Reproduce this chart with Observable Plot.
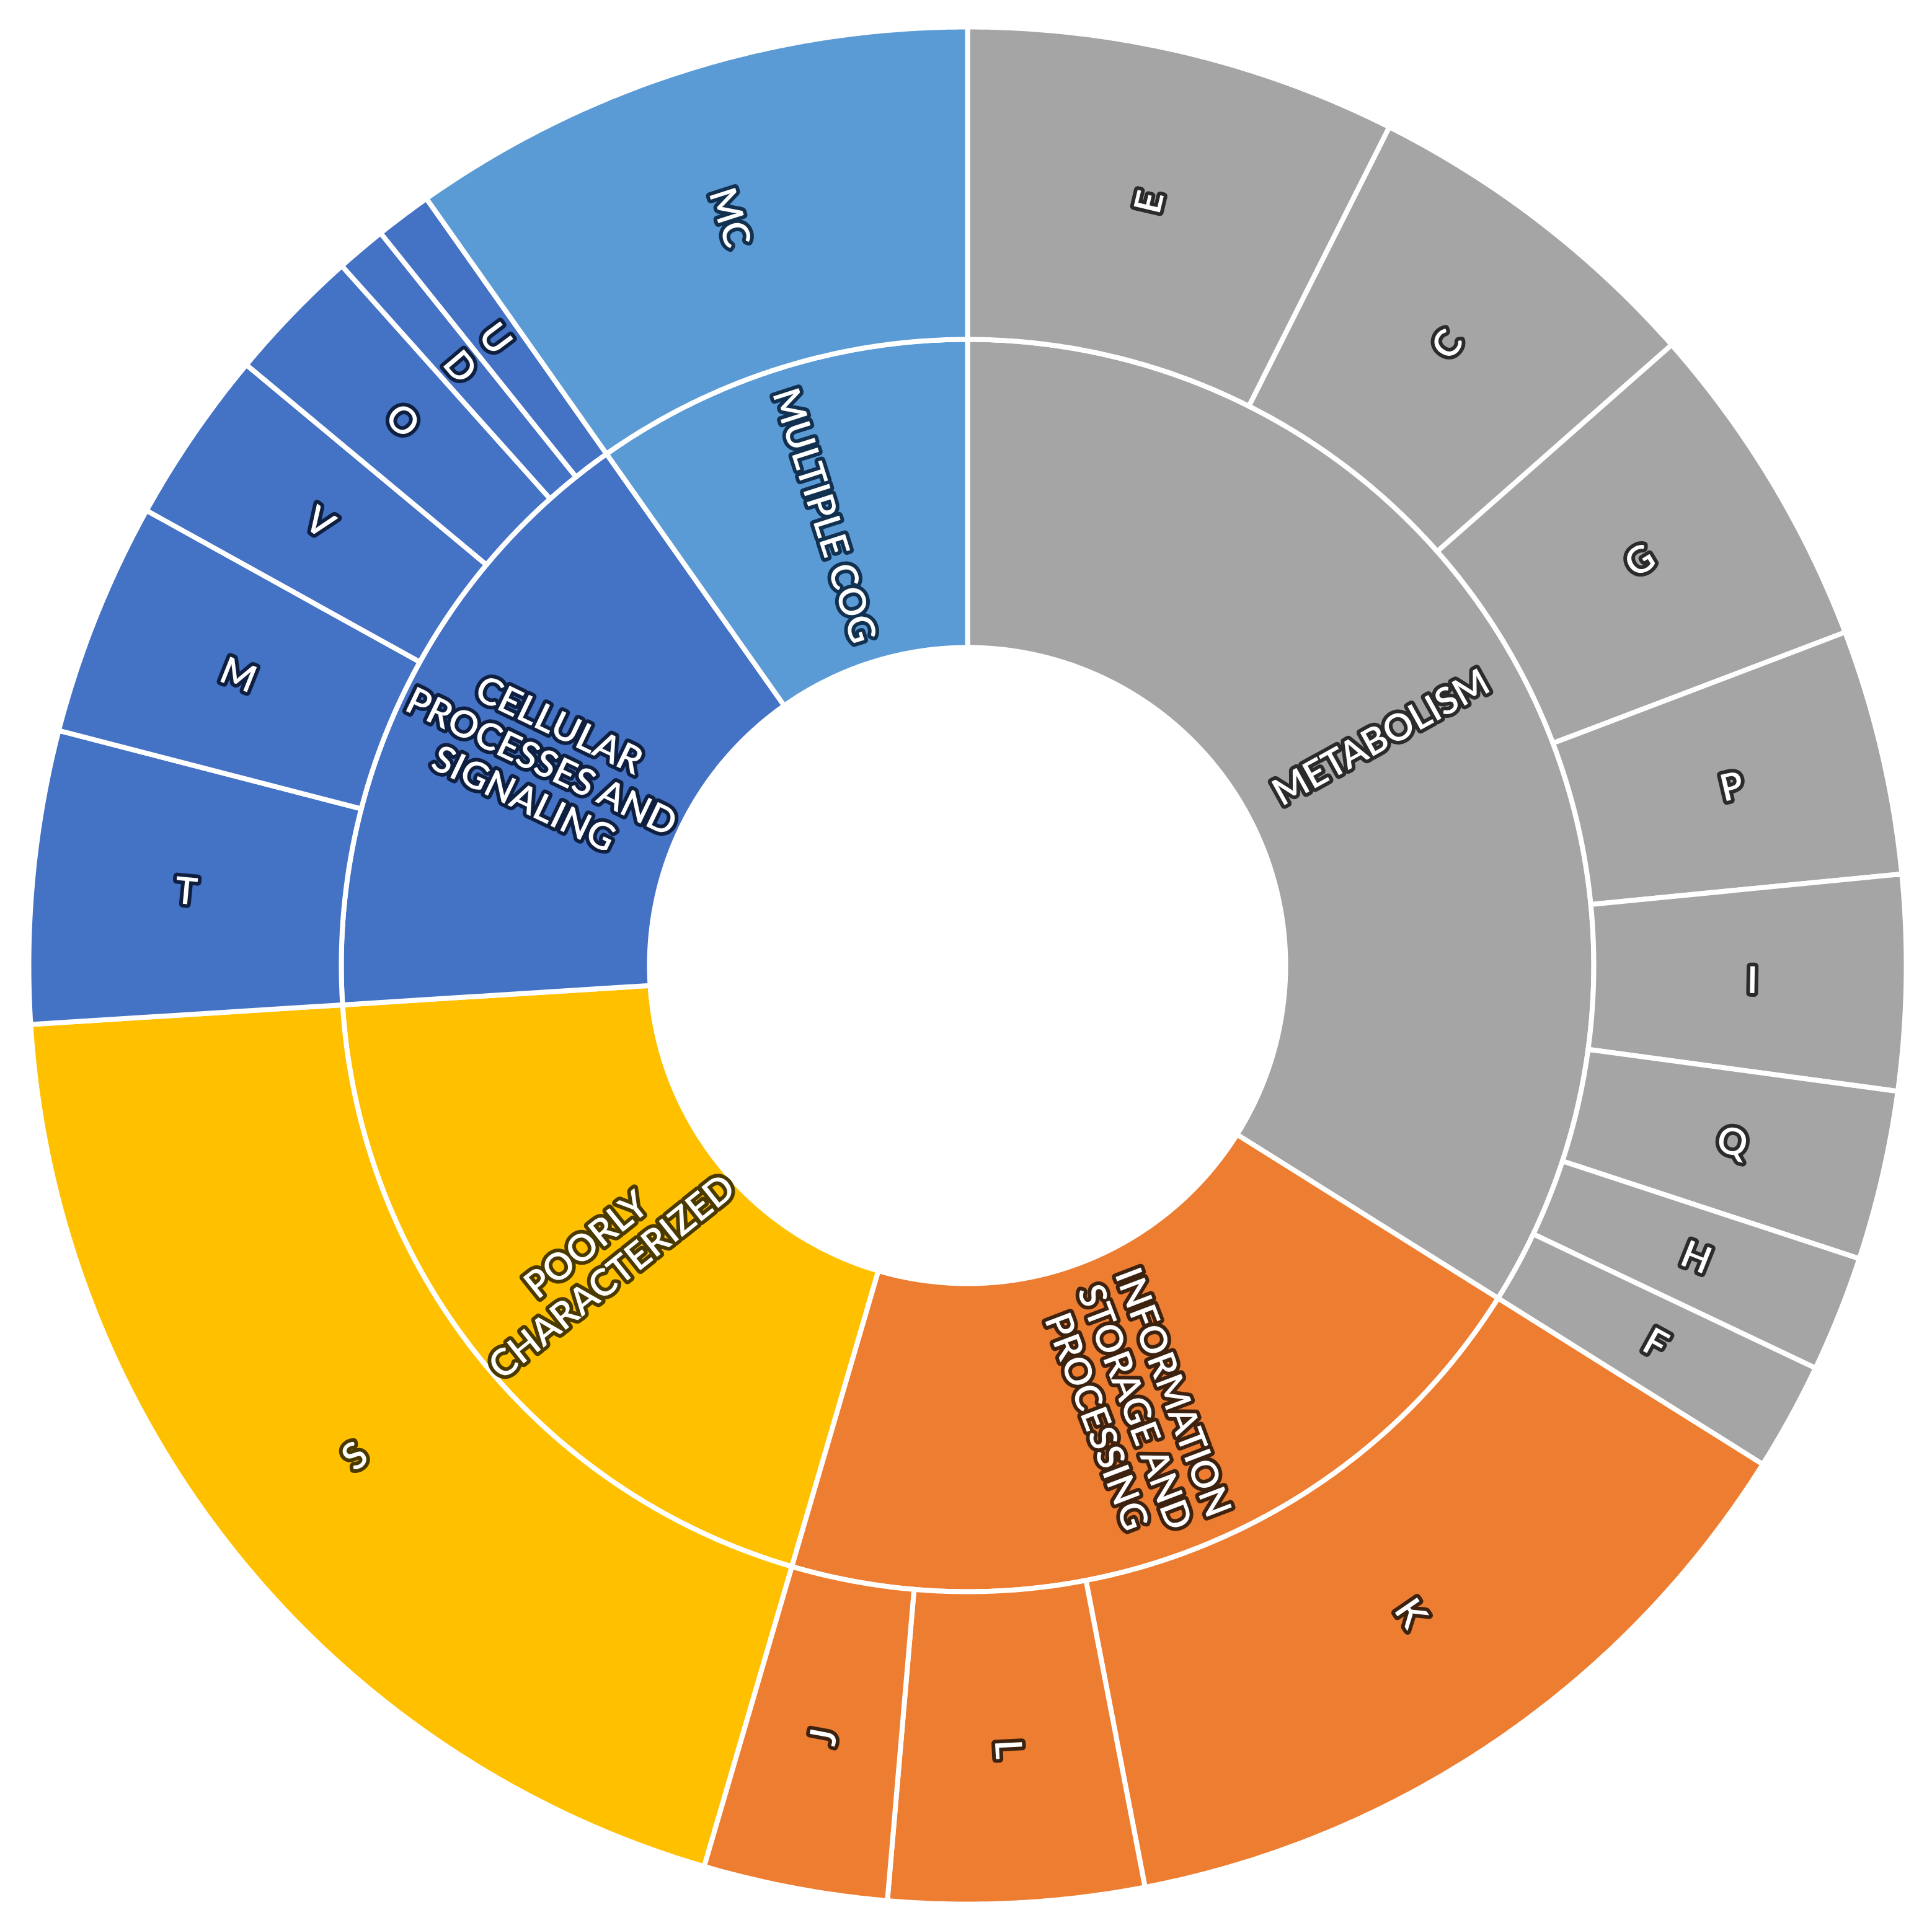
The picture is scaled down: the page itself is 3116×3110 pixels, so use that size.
<!DOCTYPE html>
<html><head><meta charset="utf-8">
<script src="https://cdn.jsdelivr.net/npm/d3@7"></script>
<script src="https://cdn.jsdelivr.net/npm/@observablehq/plot@0.6"></script>
<style>html,body{margin:0;padding:0;background:#fff}</style>
</head><body><div id="chart"></div>
<script>
// Inner ring: COG functional groups
const groups = ["METABOLISM","INFORMATION STORAGE AND PROCESSING","POORLY CHARACTERIZED","CELLULAR PROCESSES AND SIGNALING","MULTIPLE COG"];
const groupLabels = ["METABOLISM","INFORMATION\nSTORAGE AND\nPROCESSING","POORLY\nCHARACTERIZED","CELLULAR\nPROCESSES AND\nSIGNALING","MULTIPLE COG"];
const groupColors = ["#A5A5A5","#ED7D31","#FFC000","#4472C4","#5B9BD5"];
const outlineColors = ["#2b2b2b","#3d2210","#4a3a00","#0f1f40","#12304f"];
// Outer ring: COG categories
const categories = ["E","C","G","P","I","Q","H","F","K","L","J","S","T","M","V","O","D","U","MC"];
const categoryGroup = [0,0,0,0,0,0,0,0,1,1,1,2,3,3,3,3,3,3,4];
const categoryValues = [26.7,21.9,20.6,15.2,13.3,10.5,7.2,6.7,47.0,15.8,11.4,70.1,18.1,14.5,10.8,8.4,3.1,3.5,35.2];

// layout constants (pixels)
const W = 3116, H = 3110, CX = 1560, CY = 1557;
const R_HOLE = 513, R_MID = 1010, R_OUT = 1514;

const total = d3.sum(categoryValues);
const k = 360 / total;

// group sums
const groupValues = groups.map((g, i) => d3.sum(categoryValues.filter((v, j) => categoryGroup[j] === i)));

function segments(values, r0, r1, colorOf, nameOf) {
  let acc = 0;
  return values.map((v, i) => {
    const a0 = acc * k; acc += v; const a1 = acc * k;
    return {id: nameOf(i) + "@" + r0, i, a0, a1, r0, r1, color: colorOf(i)};
  });
}
const innerSegs = segments(groupValues, R_HOLE, R_MID, i => groupColors[i], i => groups[i]);
const outerSegs = segments(categoryValues, R_MID, R_OUT, i => groupColors[categoryGroup[i]], i => categories[i]);

const rad = a => a * Math.PI / 180;
function poly(s) {
  const pts = [];
  const n = Math.max(2, Math.ceil((s.a1 - s.a0) / 0.25));
  for (let j = 0; j <= n; j++) { const a = rad(s.a0 + (s.a1 - s.a0) * j / n); pts.push([s.r1 * Math.sin(a), s.r1 * Math.cos(a)]); }
  for (let j = n; j >= 0; j--) { const a = rad(s.a0 + (s.a1 - s.a0) * j / n); pts.push([s.r0 * Math.sin(a), s.r0 * Math.cos(a)]); }
  pts.push(pts[0]);
  return pts.map(([x, y]) => ({id: s.id, x, y, color: s.color}));
}
const rows = [...innerSegs, ...outerSegs].flatMap(poly);

function label(s, text, outline, r) {
  const m = (s.a0 + s.a1) / 2;
  const a = rad(m);
  return {x: r * Math.sin(a), y: r * Math.cos(a), text, rotate: m < 180 ? m - 90 : m - 270, outline};
}
const labels = [
  ...innerSegs.map((s, i) => label(s, groupLabels[i], outlineColors[i], (R_HOLE + R_MID) / 2)),
  ...outerSegs.map((s, i) => label(s, categories[i], outlineColors[categoryGroup[i]], 1266))
];

const chart = Plot.plot({
  width: W, height: H,
  marginTop: 0, marginRight: 0, marginBottom: 0, marginLeft: 0,
  x: {domain: [-CX, W - CX], axis: null},
  y: {domain: [CY - H, CY], axis: null},
  color: {type: "identity"},
  style: {background: "white"},
  marks: [
    Plot.line(rows, {x: "x", y: "y", z: "id", fill: "color", stroke: "white", strokeWidth: 8, strokeLinejoin: "round", curve: "linear"}),
    Plot.text(labels, {x: "x", y: "y", text: "text", rotate: "rotate", fill: "white", stroke: "outline", strokeWidth: 12, strokeLinejoin: "round",
      fontSize: 60, fontFamily: "Lato", fontWeight: 600, lineHeight: 1.1, textAnchor: "middle"})
  ]
});
document.getElementById("chart").appendChild(chart);
</script>
</body></html>
